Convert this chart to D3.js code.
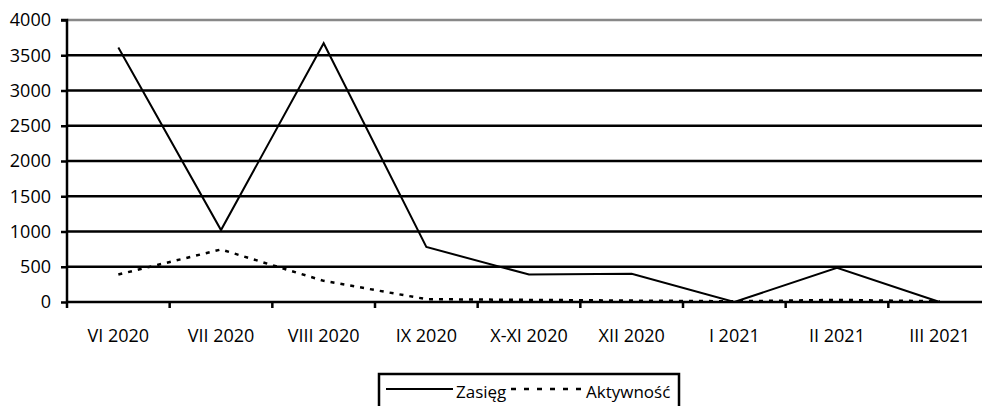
<!DOCTYPE html>
<html>
<head>
<meta charset="utf-8">
<script src="https://cdn.jsdelivr.net/npm/d3@7.9.0/dist/d3.min.js"></script>
<style>
  body { margin: 0; background: #fff; }
  svg { display: block; font-family: "Open Sans", sans-serif; }
</style>
</head>
<body>
<svg id="chart"></svg>
<script>
const months = ['VI 2020', 'VII 2020', 'VIII 2020', 'IX 2020', 'X-XI 2020', 'XII 2020', 'I 2021', 'II 2021', 'III 2021'];
const zasieg = [3610, 1020, 3670, 780, 390, 400, 0, 485, 0];
const aktywnosc = [390, 745, 300, 40, 30, 20, 10, 30, 10];
const yTicks = [0, 500, 1000, 1500, 2000, 2500, 3000, 3500, 4000];

const width = 982;
const height = 406;
const margin = { top: 20, right: -9, bottom: 104, left: 67 };

const svg = d3.select('#chart')
    .attr('width', width)
    .attr('height', height);

const xScale = d3.scaleBand()
    .domain(months)
    .range([margin.left, width - margin.right]);

const yScale = d3.scaleLinear()
    .domain([0, 4000])
    .range([height - margin.bottom, margin.top]);

// gridlines
svg.append('g')
    .selectAll('line')
    .data(yTicks.filter(d => d > 0))
    .join('line')
    .attr('x1', margin.left)
    .attr('x2', width)
    .attr('y1', d => yScale(d))
    .attr('y2', d => yScale(d))
    .attr('stroke', d => d === 4000 ? '#888' : '#000')
    .attr('stroke-width', 2.5);

// y axis
const yAxis = svg.append('g')
    .attr('transform', `translate(${margin.left}, 0)`)
    .call(d3.axisLeft(yScale).tickValues(yTicks).tickFormat(d3.format('d')).tickSize(6).tickPadding(10));
yAxis.select('.domain').attr('stroke-width', 2.5).attr('d', `M-6,${yScale(4000)}H0V${yScale(0)}`);
yAxis.selectAll('.tick line').attr('stroke-width', 2.5);
yAxis.selectAll('.tick text').attr('font-size', 18).attr('fill', '#000').attr('font-family', '"Open Sans", sans-serif');

// x axis
const xAxis = svg.append('g')
    .attr('transform', `translate(0, ${yScale(0)})`)
    .call(d3.axisBottom(xScale).tickSize(0).tickPadding(27));
xAxis.select('.domain').attr('stroke-width', 2.5).attr('d', `M${margin.left},0H${width}`);
xAxis.selectAll('.tick text').attr('font-size', 18).attr('fill', '#000').attr('font-family', '"Open Sans", sans-serif');
xAxis.selectAll('.tick line').remove();
// tick marks at band boundaries
xAxis.append('g')
    .selectAll('line')
    .data(months)
    .join('line')
    .attr('x1', d => xScale(d))
    .attr('x2', d => xScale(d))
    .attr('y1', 0)
    .attr('y2', 6)
    .attr('stroke', '#000')
    .attr('stroke-width', 2.5);

const cx = (d, i) => xScale(months[i]) + xScale.bandwidth() / 2;

const line = d3.line()
    .x(cx)
    .y(d => yScale(d));

svg.append('path')
    .datum(aktywnosc)
    .attr('d', line)
    .attr('fill', 'none')
    .attr('stroke', '#000')
    .attr('stroke-width', 2.5)
    .attr('stroke-dasharray', '4,6');

svg.append('path')
    .datum(zasieg)
    .attr('d', line)
    .attr('fill', 'none')
    .attr('stroke', '#000')
    .attr('stroke-width', 2);

// legend
const legend = svg.append('g');
legend.append('rect')
    .attr('x', 379)
    .attr('y', 374)
    .attr('width', 300)
    .attr('height', 40)
    .attr('fill', '#fff')
    .attr('stroke', '#000')
    .attr('stroke-width', 2.5);
legend.append('line')
    .attr('x1', 386).attr('x2', 453)
    .attr('y1', 389).attr('y2', 389)
    .attr('stroke', '#000').attr('stroke-width', 2);
legend.append('text')
    .attr('x', 456).attr('y', 398)
    .attr('font-size', 17)
    .text('Zasięg');
legend.append('line')
    .attr('x1', 511).attr('x2', 584)
    .attr('y1', 389).attr('y2', 389)
    .attr('stroke', '#000').attr('stroke-width', 2.5)
    .attr('stroke-dasharray', '5,8');
legend.append('text')
    .attr('x', 586).attr('y', 398)
    .attr('font-size', 17)
    .text('Aktywność');
</script>
</body>
</html>
